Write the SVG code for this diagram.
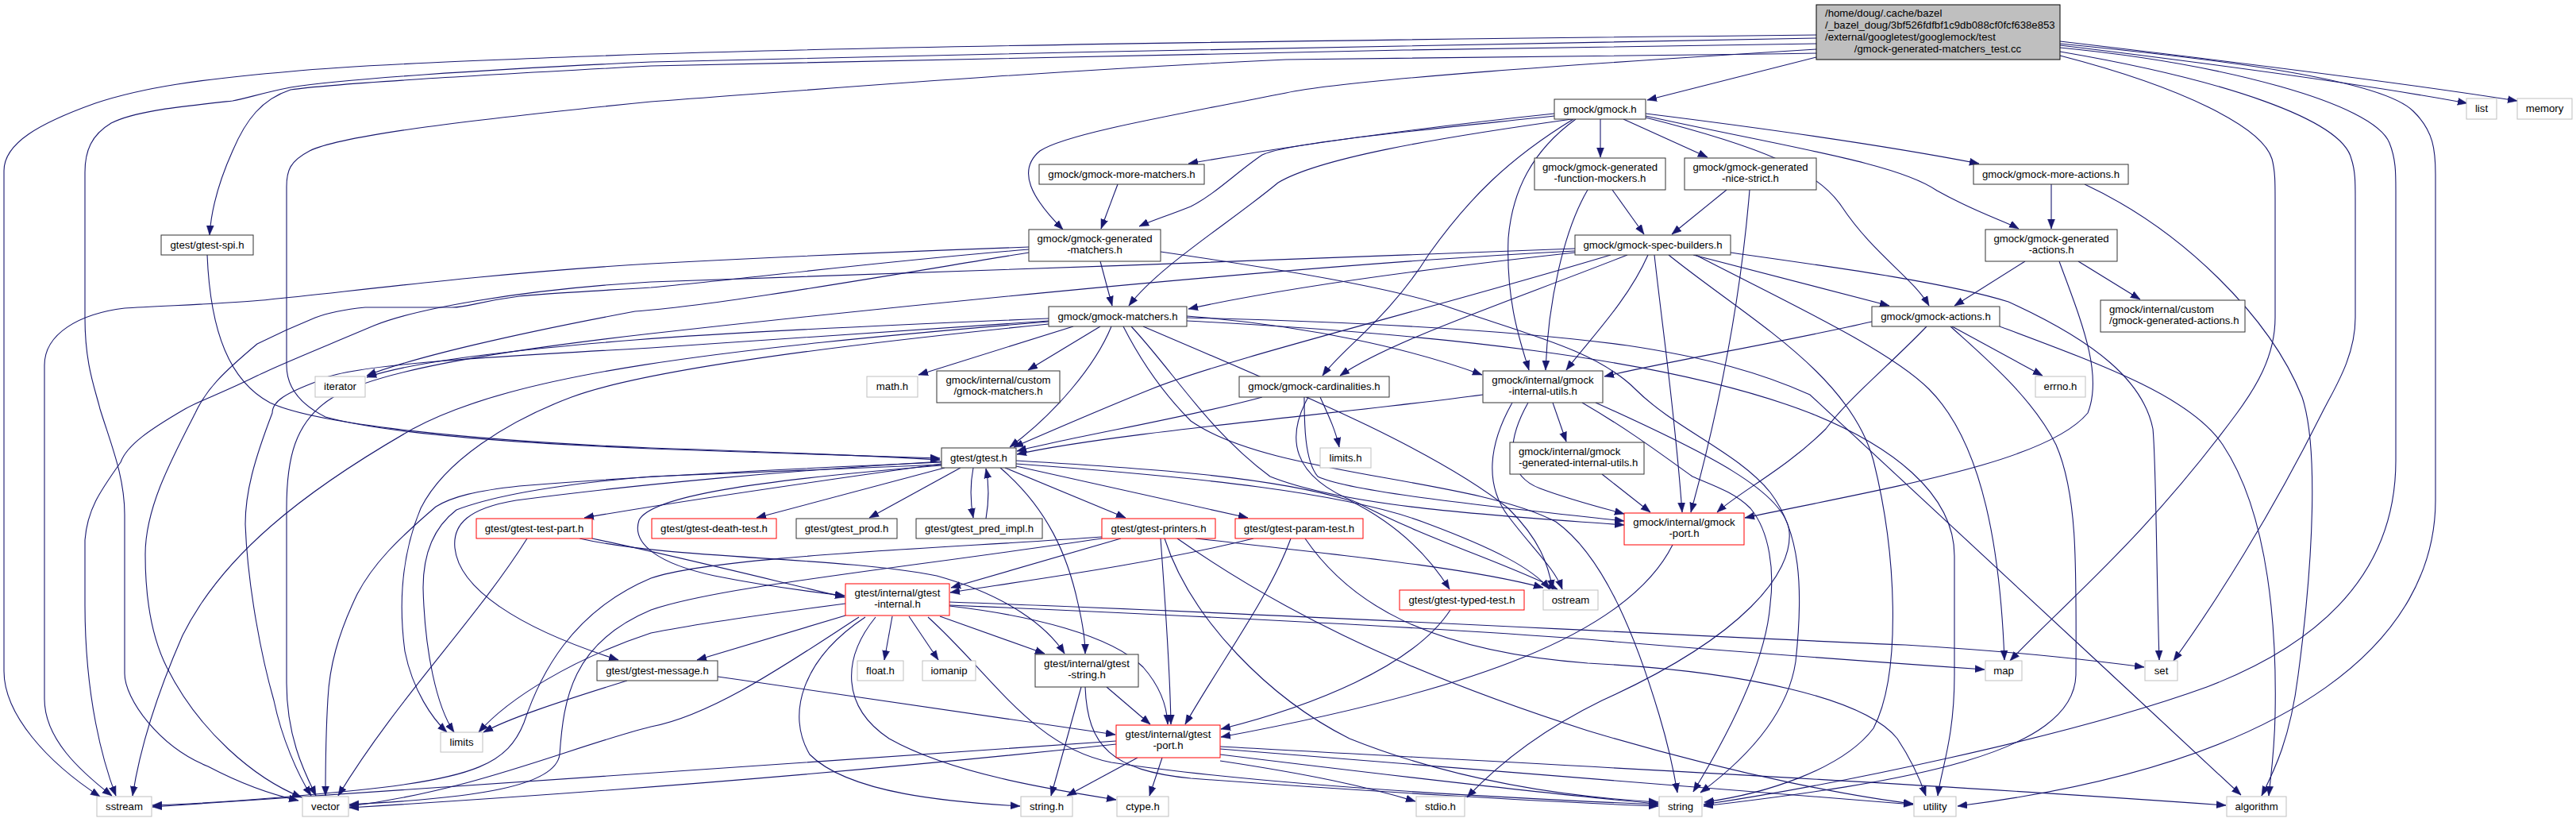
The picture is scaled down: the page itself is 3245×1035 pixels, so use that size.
<svg xmlns="http://www.w3.org/2000/svg" width="3245" height="1035" viewBox="0 0 3245 1035">
<style>
rect{fill:#fff;stroke:#333;stroke-width:1}
.g rect{stroke:#bfbfbf}
.r rect{stroke:#ff0000}
.top rect{fill:#bfbfbf;stroke:#000}
text{font-family:"Liberation Sans",Arial,sans-serif;font-size:13.2px;text-anchor:middle;fill:#000}
text.l{text-anchor:start}
#edges path{fill:none;stroke:#191970;stroke-width:1.1;marker-end:url(#ah)}
</style>
<defs>
<marker id="ah" markerUnits="userSpaceOnUse" markerWidth="12" markerHeight="10" viewBox="0 0 12 10" refX="12" refY="5" orient="auto">
<path d="M0,0.5 L12,5 L0,9.5 z" fill="#191970" stroke="#191970" stroke-width="0.5"/>
</marker>
</defs>
<rect x="0" y="0" width="3245" height="1035" style="fill:#fff;stroke:none"/>
<g id="edges">
<!-- top node -->
<path d="M2288,72 L2075,126"/>
<path d="M2288,55 C1800,62 1200,72 820,83 C600,95 420,105 366,113 C330,125 310,150 293,190 C275,230 266,265 264,296"/>
<path d="M2288,62 C2000,80 1700,100 1620,117 C1450,150 1340,170 1310,190 C1280,215 1300,250 1339,289"/>
<path d="M2288,67 C2000,72 1700,74 1620,75 C1300,90 1000,115 820,128 C600,150 430,170 390,190 C365,203 361,215 361,235 L361,460 C361,490 380,510 410,525 C500,550 700,560 820,565 C950,570 1100,574 1184,577"/>
<path d="M2288,44 C1900,48 1200,56 820,68 C600,76 450,82 366,90 C250,100 180,110 120,130 C50,155 5,180 5,215 L5,845 C5,900 60,960 126,1003"/>
<path d="M2288,48 C1900,55 1300,66 820,78 C600,88 430,100 366,110 C330,117 310,124 293,127 C220,135 170,140 140,155 C115,170 107,190 107,217 L107,400 C107,460 120,490 126,515 C140,560 157,600 157,648 L157,848 C157,880 200,940 262,965 C300,985 340,1000 376,1008"/>
<path d="M2595,60 C2800,80 2990,130 3010,180 C3018,200 3018,217 3018,240 L3018,580 C3018,700 2950,800 2780,865 C2600,930 2300,990 2146,1013"/>
<path d="M2595,55 C2800,75 3000,100 3040,140 C3066,165 3068,190 3068,220 L3068,630 C3068,800 2900,960 2466,1015"/>
<path d="M2595,70 C2750,110 2850,160 2862,200 C2866,215 2866,230 2866,250 L2866,400 C2866,450 2840,490 2818,520 C2700,680 2600,760 2532,832"/>
<path d="M2595,65 C2800,100 2950,150 2962,200 C2967,215 2967,230 2967,250 L2967,400 C2967,450 2940,490 2925,520 C2860,650 2790,760 2738,832"/>
<path d="M2595,57 C2850,88 3000,110 3108,130"/>
<path d="M2595,52 C2850,82 3050,108 3171,127"/>
<!-- gmock.h -->
<path d="M1958,143 C1750,165 1600,188 1497,206"/>
<path d="M1958,146 C1780,165 1620,180 1590,195 C1560,215 1530,245 1500,260 C1470,272 1450,278 1435,285"/>
<path d="M1980,150 C1800,175 1660,200 1610,230 C1550,280 1460,335 1422,385"/>
<path d="M2016,150 L2016,198"/>
<path d="M2045,150 L2151,198"/>
<path d="M2073,143 C2250,165 2400,188 2493,206"/>
<path d="M2073,146 C2250,185 2390,205 2440,240 C2490,268 2525,278 2543,288"/>
<path d="M2073,148 C2220,185 2290,215 2320,260 C2360,320 2410,350 2430,385"/>
<path d="M1982,150 C1900,200 1850,250 1800,320 C1750,400 1690,440 1666,473"/>
<path d="M1985,150 C1930,190 1905,240 1900,300 C1897,380 1915,430 1926,466"/>
<!-- spi, more-matchers -->
<path d="M261,321 C265,420 290,480 340,507 C400,535 600,555 820,564 C1000,570 1100,574 1184,579"/>
<path d="M1408,232 L1387,288"/>
<!-- generated-matchers -->
<path d="M1386,329 L1401,385"/>
<path d="M1296,318 C1100,350 900,385 800,392 C650,420 520,450 462,473"/>
<path d="M1296,311 C1100,318 950,325 820,332 C600,345 420,370 340,377 C300,382 200,385 157,388 C100,395 56,420 56,460 L56,880 C56,930 100,970 141,1002"/>
<path d="M1296,314 C1100,330 950,350 820,362 C720,368 680,370 654,373 C600,380 590,387 570,387 L460,387 C430,390 410,395 397,400 C360,415 340,425 324,433 C280,470 260,490 246,520 C215,580 183,640 183,698 C183,750 190,800 210,840 C250,920 320,980 380,1004"/>
<path d="M1462,317 C1620,340 1750,362 1820,385 C1920,420 2010,440 2060,490 C2110,540 2190,570 2230,620 C2268,670 2272,740 2262,833 C2252,900 2200,955 2142,998"/>
<!-- function-mockers, nice-strict -->
<path d="M2031,239 L2071,295"/>
<path d="M2000,239 C1970,290 1950,380 1947,466"/>
<path d="M2175,239 L2106,295"/>
<path d="M2204,239 C2195,350 2175,480 2130,645"/>
<!-- more-actions, generated-actions -->
<path d="M2584,232 L2584,288"/>
<path d="M2626,232 C2750,290 2860,400 2900,500 C2920,560 2915,700 2895,850 C2885,930 2865,970 2849,1002"/>
<path d="M2551,329 L2462,385"/>
<path d="M2618,329 L2696,377"/>
<path d="M2594,329 C2620,400 2650,470 2630,520 C2580,580 2400,610 2198,652"/>
<!-- spec-builders -->
<path d="M2136,321 C2250,380 2380,440 2430,490 C2500,560 2520,700 2525,831"/>
<path d="M2180,318 C2300,335 2450,355 2530,380 C2640,430 2700,480 2712,540 C2716,580 2716,700 2720,831"/>
<path d="M1984,313 C1700,325 1100,345 820,355 C650,365 520,390 471,410 C400,440 350,460 324,473 C280,495 250,505 233,515 C190,540 160,560 152,582 C125,620 110,642 107,680 L107,760 C107,880 130,960 146,1002"/>
<path d="M2102,321 C2200,400 2330,470 2360,580 C2390,700 2395,850 2360,917 C2320,970 2220,1000 2147,1010"/>
<path d="M1984,316 C1600,335 1000,400 820,420 C600,445 470,470 420,500 C370,530 361,580 361,640 L361,860 C361,930 385,975 398,1002"/>
<path d="M2133,321 L2380,385"/>
<path d="M2050,321 C1900,380 1750,430 1688,473"/>
<path d="M1984,318 C1800,338 1620,362 1497,389"/>
<path d="M2076,321 C2050,380 2000,430 1973,466"/>
<path d="M2084,321 C2095,420 2110,520 2119,645"/>
<path d="M2029,321 C1800,390 1550,450 1450,490 C1400,510 1330,540 1277,563"/>
<!-- gmock-matchers -->
<path d="M1352,411 L1157,472"/>
<path d="M1386,411 L1295,466"/>
<path d="M1400,411 C1380,460 1330,520 1272,563"/>
<path d="M1321,401 C1100,410 900,420 800,428 C650,440 520,455 462,475"/>
<path d="M1321,405 C900,440 650,470 520,540 C380,620 280,700 230,800 C195,880 175,950 167,1002"/>
<path d="M1321,404 C1100,420 900,432 820,438 C600,450 430,460 400,480 C360,495 343,505 343,520 C320,580 309,620 309,660 C312,740 330,830 345,882 C355,930 375,975 392,1002"/>
<path d="M1321,408 C1000,440 800,470 720,500 C640,530 560,580 530,640 C505,700 502,760 510,820 C520,870 545,905 563,922"/>
<path d="M1440,411 C1600,480 1800,560 1900,640 C1940,680 1950,710 1956,742"/>
<path d="M1415,411 C1440,460 1470,500 1500,530 C1600,600 1850,600 1960,657 C2020,700 2060,800 2090,900 C2105,950 2110,980 2113,998"/>
<path d="M1495,404 C1800,420 2100,450 2280,520 C2380,560 2462,620 2462,700 L2462,850 C2462,930 2445,970 2441,1002"/>
<path d="M1495,400 C1700,405 1900,415 2050,435 C2150,450 2220,470 2280,497 C2461,664 2642,833 2823,1001"/>
<path d="M1495,398 C1650,410 1780,440 1867,472"/>
<path d="M1425,411 C1480,470 1520,540 1600,600 C1700,640 1900,650 2046,661"/>
<!-- gmock-actions -->
<path d="M2459,411 L2573,473"/>
<path d="M2519,411 C2650,460 2760,500 2800,560 C2860,650 2868,800 2866,900 C2865,950 2860,980 2858,1002"/>
<path d="M2457,411 C2500,450 2560,500 2590,560 C2616,620 2616,700 2615,850 C2612,950 2400,985 2146,1015"/>
<path d="M2358,405 C2250,430 2100,455 2021,474"/>
<path d="M2427,411 C2380,460 2330,500 2300,540 C2250,590 2190,620 2163,645"/>
<!-- cardinalities -->
<path d="M1663,500 C1672,520 1682,540 1687,563"/>
<path d="M1648,500 C1620,550 1625,600 1710,633 C1800,680 1900,710 1962,742"/>
<path d="M1643,500 C1643,530 1643,580 1660,600 C1700,620 1900,640 2046,656"/>
<path d="M1590,500 C1500,525 1350,550 1281,568"/>
<!-- internal-utils -->
<path d="M1956,507 L1973,556"/>
<path d="M1868,497 C1700,520 1400,545 1281,572"/>
<path d="M2010,507 C2150,570 2250,620 2254,670 C2258,720 2200,800 2018,882 C1930,925 1880,970 1848,1004"/>
<path d="M1905,507 C1875,560 1870,610 1900,650 C1930,690 1958,715 1968,742"/>
<path d="M1993,507 C2050,540 2090,570 2132,600 C2160,612 2185,620 2205,640 C2230,670 2235,720 2230,760 C2225,830 2180,920 2133,997"/>
<path d="M1925,507 C1895,560 1900,600 1940,615 C1980,630 2020,640 2046,647"/>
<path d="M2018,597 L2079,645"/>
<!-- gmock-port -->
<path d="M2107,686 C2050,800 1850,870 1538,928"/>
<!-- gtest.h -->
<path d="M1190,589 L953,652"/>
<path d="M1210,589 L1095,652"/>
<path d="M1226,589 C1222,610 1222,630 1226,652"/>
<path d="M1242,653 C1246,630 1246,610 1242,590"/>
<path d="M1260,589 C1320,640 1345,700 1358,760 C1365,790 1367,810 1367,823"/>
<path d="M1266,589 L1418,652"/>
<path d="M1280,587 L1572,652"/>
<path d="M1280,580 C1450,590 1600,600 1700,630 C1760,660 1800,700 1826,742"/>
<path d="M1280,584 C1500,600 1700,620 1800,660 C1880,690 1930,715 1952,742"/>
<path d="M1186,582 C1000,590 800,600 654,612 C600,618 570,625 549,638 C500,680 470,710 450,748 C425,800 415,840 413,880 C410,930 410,970 410,1002"/>
<path d="M1186,585 C1000,592 850,598 820,600 C700,610 620,625 575,642 C545,665 533,700 533,740 C535,820 550,890 572,922"/>
<path d="M1186,584 C1000,610 850,632 736,652"/>
<path d="M1186,586 C950,605 820,625 805,655 C795,685 830,710 900,725 C960,737 1020,745 1064,750"/>
<path d="M1186,581 C1000,592 800,610 650,630 C590,640 570,660 573,690 C578,740 650,790 779,831"/>
<!-- test-part -->
<path d="M664,678 C600,780 500,880 426,1002"/>
<path d="M746,678 C850,700 950,725 1064,752"/>
<path d="M730,678 C850,705 1050,700 1180,725 C1270,750 1320,790 1341,823"/>
<!-- printers -->
<path d="M1412,678 L1198,740"/>
<path d="M1462,678 C1468,760 1474,850 1475,912"/>
<path d="M1506,678 C1700,700 1850,715 1944,740"/>
<path d="M1467,678 C1500,780 1600,880 1700,930 C1850,990 2000,1005 2089,1010"/>
<path d="M1483,678 C1600,760 1750,840 2000,920 C2200,980 2350,1005 2410,1012"/>
<path d="M1388,676 C1200,690 900,700 820,728 C720,770 680,850 660,910 C640,960 600,980 450,995 C350,1005 250,1012 192,1014"/>
<path d="M1388,678 C1100,720 900,740 820,768 C720,810 710,880 705,950 C700,990 600,1005 440,1013"/>
<!-- param-test, typed-test -->
<path d="M1579,678 C1450,710 1300,730 1197,746"/>
<path d="M1626,678 C1600,750 1540,830 1493,912"/>
<path d="M1644,678 C1700,760 1800,820 2000,835 C2200,845 2350,880 2390,930 C2410,960 2420,985 2426,1002"/>
<path d="M1827,768 C1780,840 1650,890 1538,918"/>
<!-- gtest-internal -->
<path d="M1065,775 L878,831"/>
<path d="M1124,776 L1114,831"/>
<path d="M1145,776 L1182,831"/>
<path d="M1184,776 L1316,823"/>
<path d="M1196,763 C1300,775 1400,800 1440,840 C1462,865 1470,890 1471,912"/>
<path d="M1090,777 C1010,830 990,900 1020,950 C1070,1000 1200,1010 1285,1015"/>
<path d="M1103,777 C1060,830 1060,890 1120,930 C1200,975 1330,995 1406,1007"/>
<path d="M1169,777 C1250,850 1300,940 1400,960 C1600,990 1900,1005 2089,1013"/>
<path d="M1065,760 C950,775 880,785 820,797 C720,830 640,880 603,922"/>
<path d="M1082,777 C1000,830 900,900 820,915 C720,940 600,995 440,1015"/>
<path d="M1196,762 C1500,775 1800,790 2000,805 C2200,822 2400,836 2500,843"/>
<path d="M1196,758 C1600,772 2100,800 2400,812 C2560,822 2640,832 2701,840"/>
<!-- message -->
<path d="M790,857 C700,885 640,905 609,922"/>
<path d="M904,852 C1100,880 1300,910 1405,925"/>
<!-- gtest-string -->
<path d="M1362,865 L1324,1002"/>
<path d="M1367,865 C1370,940 1400,970 1500,980 C1700,995 1950,1010 2089,1015"/>
<path d="M1394,865 L1449,912"/>
<!-- gtest-port -->
<path d="M1433,954 L1344,1002"/>
<path d="M1464,954 L1448,1002"/>
<path d="M1537,958 C1650,975 1720,990 1783,1009"/>
<path d="M1537,950 C1700,970 1950,1000 2089,1012"/>
<path d="M1537,943 C1800,965 2200,995 2410,1013"/>
<path d="M1537,940 C1900,960 2400,985 2804,1014"/>
<path d="M1406,933 C1000,960 600,990 192,1016"/>
<path d="M1406,937 C1100,970 800,995 440,1017"/>
</g>
<g id="node-top" class="top"><rect x="2288" y="6" width="307" height="69"/><text class="l" x="2299" y="21">/home/doug/.cache/bazel</text><text class="l" x="2299" y="36">/_bazel_doug/3bf526fdfbf1c9db088cf0fcf638e853</text><text class="l" x="2299" y="51">/external/googletest/googlemock/test</text><text x="2441" y="66">/gmock-generated-matchers_test.cc</text></g>
<g id="node-gmock"><rect x="1958" y="125" width="115" height="25"/><text x="2015.5" y="142">gmock/gmock.h</text></g>
<g id="node-gtest-spi"><rect x="203" y="296" width="116" height="25"/><text x="261" y="313">gtest/gtest-spi.h</text></g>
<g id="node-more-matchers"><rect x="1309" y="207" width="208" height="25"/><text x="1413" y="224">gmock/gmock-more-matchers.h</text></g>
<g id="node-gen-matchers"><rect x="1296" y="289" width="166" height="40"/><text x="1379" y="305">gmock/gmock-generated</text><text x="1379" y="319">-matchers.h</text></g>
<g id="node-func-mockers"><rect x="1933" y="199" width="165" height="40"/><text x="2015.5" y="215">gmock/gmock-generated</text><text x="2015.5" y="229">-function-mockers.h</text></g>
<g id="node-nice-strict"><rect x="2122" y="199" width="166" height="40"/><text x="2205" y="215">gmock/gmock-generated</text><text x="2205" y="229">-nice-strict.h</text></g>
<g id="node-more-actions"><rect x="2486" y="207" width="195" height="25"/><text x="2583.5" y="224">gmock/gmock-more-actions.h</text></g>
<g id="node-gen-actions"><rect x="2501" y="289" width="166" height="40"/><text x="2584" y="305">gmock/gmock-generated</text><text x="2584" y="319">-actions.h</text></g>
<g id="node-spec-builders"><rect x="1984" y="296" width="196" height="25"/><text x="2082" y="313">gmock/gmock-spec-builders.h</text></g>
<g id="node-matchers"><rect x="1321" y="386" width="174" height="25"/><text x="1408" y="403">gmock/gmock-matchers.h</text></g>
<g id="node-actions"><rect x="2358" y="386" width="161" height="25"/><text x="2438.5" y="403">gmock/gmock-actions.h</text></g>
<g id="node-custom-gen-actions"><rect x="2646" y="378" width="182" height="40"/><text class="l" x="2657" y="394">gmock/internal/custom</text><text class="l" x="2657" y="408">/gmock-generated-actions.h</text></g>
<g id="node-iterator" class="g"><rect x="397" y="474" width="63" height="26"/><text x="428.5" y="491">iterator</text></g>
<g id="node-math" class="g"><rect x="1092" y="474" width="64" height="26"/><text x="1124" y="491">math.h</text></g>
<g id="node-custom-matchers"><rect x="1180" y="467" width="155" height="40"/><text x="1257.5" y="483">gmock/internal/custom</text><text x="1257.5" y="497">/gmock-matchers.h</text></g>
<g id="node-cardinalities"><rect x="1561" y="474" width="189" height="26"/><text x="1655.5" y="491">gmock/gmock-cardinalities.h</text></g>
<g id="node-internal-utils"><rect x="1868" y="467" width="151" height="40"/><text x="1943.5" y="483">gmock/internal/gmock</text><text x="1943.5" y="497">-internal-utils.h</text></g>
<g id="node-errno" class="g"><rect x="2564" y="474" width="63" height="26"/><text x="2595.5" y="491">errno.h</text></g>
<g id="node-gtest"><rect x="1186" y="564" width="94" height="25"/><text x="1233" y="581">gtest/gtest.h</text></g>
<g id="node-limits-h" class="g"><rect x="1663" y="564" width="64" height="25"/><text x="1695" y="581">limits.h</text></g>
<g id="node-gen-internal-utils"><rect x="1902" y="557" width="169" height="40"/><text class="l" x="1913" y="573">gmock/internal/gmock</text><text class="l" x="1913" y="587">-generated-internal-utils.h</text></g>
<g id="node-test-part" class="r"><rect x="600" y="653" width="146" height="25"/><text x="673" y="670">gtest/gtest-test-part.h</text></g>
<g id="node-death-test" class="r"><rect x="821" y="653" width="157" height="25"/><text x="899.5" y="670">gtest/gtest-death-test.h</text></g>
<g id="node-prod"><rect x="1003" y="653" width="127" height="25"/><text x="1066.5" y="670">gtest/gtest_prod.h</text></g>
<g id="node-pred-impl"><rect x="1154" y="653" width="159" height="25"/><text x="1233.5" y="670">gtest/gtest_pred_impl.h</text></g>
<g id="node-printers" class="r"><rect x="1388" y="653" width="143" height="25"/><text x="1459.5" y="670">gtest/gtest-printers.h</text></g>
<g id="node-param-test" class="r"><rect x="1556" y="653" width="161" height="25"/><text x="1636.5" y="670">gtest/gtest-param-test.h</text></g>
<g id="node-gmock-port" class="r"><rect x="2046" y="646" width="151" height="40"/><text x="2121.5" y="662">gmock/internal/gmock</text><text x="2121.5" y="676">-port.h</text></g>
<g id="node-gtest-internal" class="r"><rect x="1065" y="735" width="131" height="40"/><text x="1130.5" y="751">gtest/internal/gtest</text><text x="1130.5" y="765">-internal.h</text></g>
<g id="node-typed-test" class="r"><rect x="1763" y="743" width="157" height="25"/><text x="1841.5" y="760">gtest/gtest-typed-test.h</text></g>
<g id="node-ostream" class="g"><rect x="1944" y="743" width="69" height="25"/><text x="1978.5" y="760">ostream</text></g>
<g id="node-message"><rect x="752" y="832" width="152" height="25"/><text x="828" y="849">gtest/gtest-message.h</text></g>
<g id="node-float" class="g"><rect x="1080" y="832" width="58" height="25"/><text x="1109" y="849">float.h</text></g>
<g id="node-iomanip" class="g"><rect x="1162" y="832" width="67" height="25"/><text x="1195.5" y="849">iomanip</text></g>
<g id="node-gtest-string"><rect x="1304" y="824" width="130" height="41"/><text x="1369" y="840">gtest/internal/gtest</text><text x="1369" y="854">-string.h</text></g>
<g id="node-map" class="g"><rect x="2501" y="832" width="46" height="25"/><text x="2524" y="849">map</text></g>
<g id="node-set" class="g"><rect x="2702" y="832" width="41" height="25"/><text x="2722.5" y="849">set</text></g>
<g id="node-gtest-port" class="r"><rect x="1406" y="913" width="131" height="41"/><text x="1471.5" y="929">gtest/internal/gtest</text><text x="1471.5" y="943">-port.h</text></g>
<g id="node-limits" class="g"><rect x="555" y="922" width="53" height="25"/><text x="581.5" y="939">limits</text></g>
<g id="node-sstream" class="g"><rect x="122" y="1003" width="69" height="25"/><text x="156.5" y="1020">sstream</text></g>
<g id="node-vector" class="g"><rect x="381" y="1003" width="58" height="25"/><text x="410" y="1020">vector</text></g>
<g id="node-string-h" class="g"><rect x="1286" y="1003" width="65" height="25"/><text x="1318.5" y="1020">string.h</text></g>
<g id="node-ctype" class="g"><rect x="1407" y="1003" width="65" height="25"/><text x="1439.5" y="1020">ctype.h</text></g>
<g id="node-stdio" class="g"><rect x="1784" y="1003" width="61" height="25"/><text x="1814.5" y="1020">stdio.h</text></g>
<g id="node-string" class="g"><rect x="2090" y="1003" width="54" height="25"/><text x="2117" y="1020">string</text></g>
<g id="node-utility" class="g"><rect x="2411" y="1003" width="53" height="25"/><text x="2437.5" y="1020">utility</text></g>
<g id="node-algorithm" class="g"><rect x="2805" y="1003" width="75" height="25"/><text x="2842.5" y="1020">algorithm</text></g>
<g id="node-list" class="g"><rect x="3107" y="124" width="38" height="26"/><text x="3126" y="141">list</text></g>
<g id="node-memory" class="g"><rect x="3171" y="124" width="69" height="26"/><text x="3205.5" y="141">memory</text></g>
</svg>
